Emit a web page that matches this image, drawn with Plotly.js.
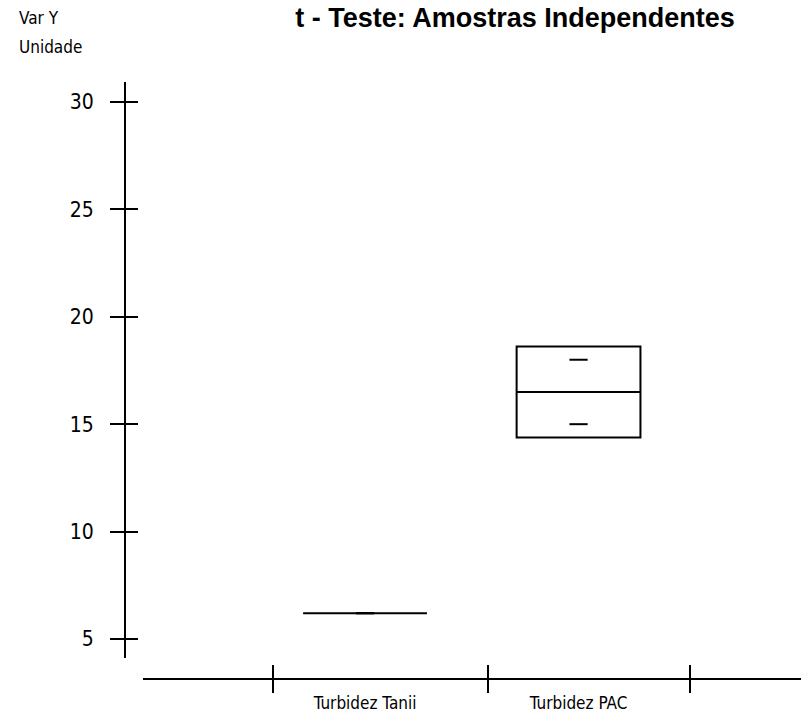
<!DOCTYPE html>
<html>
<head>
<meta charset="utf-8">
<script src="https://cdn.plot.ly/plotly-3.0.1.min.js"></script>
<style>
  html, body { margin: 0; padding: 0; background: #fff; }
  #chart { width: 801px; height: 716px; }
</style>
</head>
<body>
<div id="chart"></div>
<script>
// Groups compared by the independent-samples t test
const groups = ['Turbidez Tanii', 'Turbidez PAC'];

// Observations per group
const obsTanii = [6.2, 6.2];
const obsPAC = [15, 18];

// Y axis ticks
const yTicks = [5, 10, 15, 20, 25, 30];

const chartTitle = 't - Teste: Amostras Independentes';
const yLabelTop = 'Var Y';
const yLabelBottom = 'Unidade';

function mean(a) { return a.reduce((s, v) => s + v, 0) / a.length; }
function sd(a) {
  const m = mean(a);
  return Math.sqrt(a.reduce((s, v) => s + (v - m) * (v - m), 0) / (a.length - 1));
}

const samples = [obsTanii, obsPAC];
const means = samples.map(mean);
const sds = samples.map(sd);
const lower = means.map((m, i) => m - sds[i]);
const upper = means.map((m, i) => m + sds[i]);

const FONT = '"Liberation Sans Narrow", "DejaVu Sans Condensed", "Liberation Sans", Arial, sans-serif';
const BOLD = '"Liberation Sans", Arial, sans-serif';

// Box = mean ± 1 sd, middle line = mean
const boxTrace = {
  type: 'box',
  x: groups,
  q1: lower,
  median: means,
  q3: upper,
  lowerfence: lower,
  upperfence: upper,
  width: 0.58,
  whiskerwidth: 0,
  fillcolor: 'rgba(0,0,0,0)',
  line: { color: '#000', width: 2 },
  marker: { opacity: 0 },
  hoverinfo: 'skip',
  showlegend: false,
  xaxis: 'x',
  yaxis: 'y'
};

// Individual observations as short dashes
const ptsX = [];
const ptsY = [];
samples.forEach((arr, i) => arr.forEach(v => { ptsX.push(groups[i]); ptsY.push(v); }));
const pointTrace = {
  type: 'scatter',
  mode: 'markers',
  x: ptsX,
  y: ptsY,
  marker: { symbol: 'line-ew', size: 13, color: '#000', line: { color: '#000', width: 2 } },
  hoverinfo: 'skip',
  showlegend: false,
  xaxis: 'x',
  yaxis: 'y'
};

// Pixel frame: plot area spans x 125..801, y 82..679
const L = 125, T = 82, B = 37, W = 801, H = 716;
const plotW = W - L, plotH = H - T - B;
const xDomStart = (143 - L) / plotW;
const yDomStart = (679 - 658) / plotH;
const xRange = [-1.04, 2.042];
const yRange = [4.115, 30.93];
const xTickPos = [-0.431, 0.576, 1.522];

const layout = {
  width: W,
  height: H,
  margin: { l: L, r: 0, t: T, b: B, pad: 0 },
  paper_bgcolor: '#fff',
  plot_bgcolor: '#fff',
  showlegend: false,
  font: { family: FONT, color: '#000', size: 16 },
  title: {
    text: chartTitle,
    font: { family: BOLD, size: 27, color: '#000', weight: 'bold' },
    xref: 'paper', x: (515 - L) / plotW, xanchor: 'center',
    yref: 'container', y: 1 - 18 / H, yanchor: 'middle'
  },
  xaxis: {
    type: 'category',
    categoryorder: 'array',
    categoryarray: groups,
    domain: [xDomStart, 1],
    range: xRange,
    anchor: 'free', position: 0,
    showline: true, linecolor: '#000', linewidth: 2,
    showgrid: false, zeroline: false,
    ticks: '', ticklabelstandoff: 9,
    tickfont: { family: FONT, size: 17, color: '#000' }
  },
  xaxis2: {
    overlaying: 'x', type: 'linear',
    domain: [xDomStart, 1], range: xRange,
    anchor: 'free', position: 0, side: 'bottom',
    showline: false, showgrid: false, zeroline: false,
    tickmode: 'array', tickvals: xTickPos, showticklabels: false,
    ticks: 'outside', ticklen: 13, tickwidth: 2, tickcolor: '#000'
  },
  xaxis3: {
    overlaying: 'x', type: 'linear',
    domain: [xDomStart, 1], range: xRange,
    anchor: 'free', position: 0, side: 'bottom',
    showline: false, showgrid: false, zeroline: false,
    tickmode: 'array', tickvals: xTickPos, showticklabels: false,
    ticks: 'inside', ticklen: 14, tickwidth: 2, tickcolor: '#000'
  },
  yaxis: {
    domain: [yDomStart, 1],
    range: yRange,
    anchor: 'free', position: 0,
    showline: true, linecolor: '#000', linewidth: 2,
    showgrid: false, zeroline: false,
    tickmode: 'array', tickvals: yTicks,
    ticks: 'outside', ticklen: 14, tickwidth: 2, tickcolor: '#000',
    ticklabelstandoff: 12,
    tickfont: { family: FONT, size: 21, color: '#000' }
  },
  yaxis2: {
    overlaying: 'y',
    domain: [yDomStart, 1],
    range: yRange,
    anchor: 'free', position: 0,
    showline: false, showgrid: false, zeroline: false,
    tickmode: 'array', tickvals: yTicks, showticklabels: false,
    ticks: 'inside', ticklen: 12, tickwidth: 2, tickcolor: '#000'
  },
  annotations: [
    { text: yLabelTop, xref: 'paper', yref: 'paper', x: (17 - L) / plotW, y: (679 - 18) / plotH,
      xanchor: 'left', yanchor: 'middle', showarrow: false, font: { family: FONT, size: 17, color: '#000' } },
    { text: yLabelBottom, xref: 'paper', yref: 'paper', x: (17 - L) / plotW, y: (679 - 47) / plotH,
      xanchor: 'left', yanchor: 'middle', showarrow: false, font: { family: FONT, size: 17, color: '#000' } }
  ]
};

// Empty traces keep the overlay axes alive
const axisHolders = [
  { type: 'scatter', x: [], y: [], xaxis: 'x2', yaxis: 'y2', showlegend: false, hoverinfo: 'skip' },
  { type: 'scatter', x: [], y: [], xaxis: 'x3', yaxis: 'y', showlegend: false, hoverinfo: 'skip' }
];

Plotly.newPlot('chart', [boxTrace, pointTrace].concat(axisHolders), layout, { displayModeBar: false, staticPlot: true });
</script>
</body>
</html>
